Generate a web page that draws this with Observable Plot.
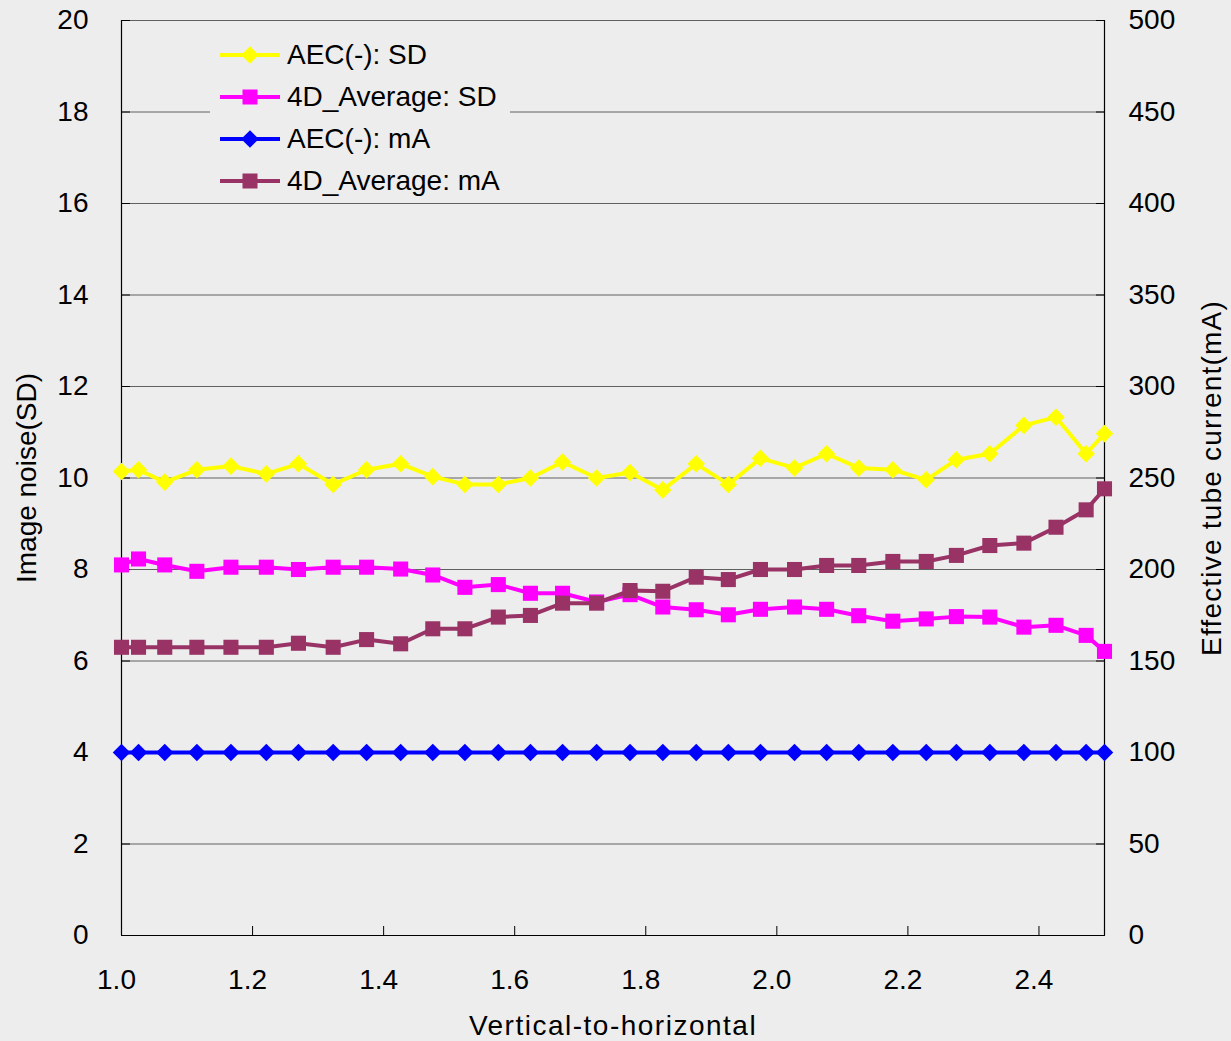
<!DOCTYPE html>
<html>
<head>
<meta charset="utf-8">
<script src="https://cdn.jsdelivr.net/npm/d3@7"></script>
<script src="https://cdn.jsdelivr.net/npm/@observablehq/plot@0.6"></script>
<style>
  body { margin: 0; background: #ededed; }
  #wrap { position: relative; width: 1231px; height: 1041px; font-family: "Liberation Sans", Arial, sans-serif; }
  #legend { position: absolute; left: 210px; top: 34px; width: 300px; height: 166px; background: #ededed; }
  .row { position: absolute; left: 0; height: 42px; display: flex; align-items: center; font-size: 28px; color: #000; white-space: nowrap; }
  .row svg { display: block; }
</style>
</head>
<body>
<div id="wrap"><div id="legend"></div></div>
<script>
// ---- data ----
const ratio = [1.0, 1.026, 1.066, 1.115, 1.167, 1.221, 1.270, 1.323, 1.374, 1.426, 1.475, 1.524, 1.575, 1.624, 1.673, 1.725,
               1.776, 1.826, 1.877, 1.926, 1.975, 2.027, 2.076, 2.125, 2.177, 2.228, 2.274, 2.325, 2.377, 2.426, 2.472, 2.5];
const aecSD = [10.14, 10.18, 9.91, 10.18, 10.26, 10.09, 10.31, 9.86, 10.18, 10.31, 10.03, 9.86, 9.86, 10.0, 10.35, 10.0,
               10.12, 9.74, 10.31, 9.86, 10.43, 10.22, 10.53, 10.22, 10.18, 9.96, 10.40, 10.53, 11.15, 11.33, 10.53, 10.97];
const avgSD = [8.10, 8.23, 8.10, 7.96, 8.05, 8.05, 8.00, 8.05, 8.05, 8.01, 7.88, 7.61, 7.67, 7.48, 7.48, 7.29,
               7.45, 7.18, 7.12, 7.01, 7.13, 7.18, 7.13, 6.99, 6.87, 6.92, 6.97, 6.96, 6.74, 6.78, 6.56, 6.21];
const aecMA = [100, 100, 100, 100, 100, 100, 100, 100, 100, 100, 100, 100, 100, 100, 100, 100,
               100, 100, 100, 100, 100, 100, 100, 100, 100, 100, 100, 100, 100, 100, 100, 100];
const avgMA = [157.5, 157.5, 157.5, 157.5, 157.5, 157.5, 159.7, 157.5, 161.7, 159.4, 167.6, 167.6, 174.0, 174.9, 181.6, 181.6,
               188.5, 188.1, 195.8, 194.5, 200.0, 200.0, 202.2, 202.2, 204.4, 204.4, 207.7, 213.1, 214.4, 223.1, 232.6, 244.1];

const seriesNames = ["AEC(-): SD", "4D_Average: SD", "AEC(-): mA", "4D_Average: mA"];
const seriesColors = ["#ffff00", "#ff00ff", "#0000ff", "#993366"];
const seriesSymbols = ["diamond", "square", "diamond", "square"];

const xDomain = [1.0, 2.5];
const leftDomain = [0, 20];
const rightDomain = [0, 500];
const xTicks = [1.0, 1.2, 1.4, 1.6, 1.8, 2.0, 2.2, 2.4];
const xTickLabels = ["1.0", "1.2", "1.4", "1.6", "1.8", "2.0", "2.2", "2.4"];
const leftTicks = [0, 2, 4, 6, 8, 10, 12, 14, 16, 18, 20];
const leftTickLabels = ["0", "2", "4", "6", "8", "10", "12", "14", "16", "18", "20"];
const rightTickLabels = ["0", "50", "100", "150", "200", "250", "300", "350", "400", "450", "500"];

const xTitle = "Vertical-to-horizontal";
const leftTitle = "Image noise(SD)";
const rightTitle = "Effective tube current(mA)";

// ---- build ----
const k = rightDomain[1] / leftDomain[1]; // secondary axis factor
const table = (ys, scale) => ratio.map((x, i) => ({x, y: ys[i] / scale}));
const series = [table(aecSD, 1), table(avgSD, 1), table(aecMA, k), table(avgMA, k)];

const xLab = new Map(xTicks.map((t, i) => [t, xTickLabels[i]]));
const lLab = new Map(leftTicks.map((t, i) => [t, leftTickLabels[i]]));
const rLab = new Map(leftTicks.map((t, i) => [t, rightTickLabels[i]]));

const FS = 28;
const symbolOpts = (sym) => sym === "diamond" ? {symbol: "square", r: 7, rotate: 45} : {symbol: "square", r: 8.5};

const marks = [
  Plot.ruleY(leftTicks.filter(d => d > 0), {stroke: "#606060", strokeWidth: 1}),
  Plot.ruleX(xDomain, {stroke: "#000", strokeWidth: 1.2}),
  Plot.ruleY([leftDomain[0]], {stroke: "#000", strokeWidth: 1.2}),
  // inward tick marks
  Plot.axisY({anchor: "left", ticks: leftTicks, tickSize: 9, dx: 9, tickFormat: () => "", label: null, stroke: "#000"}),
  Plot.axisY({anchor: "right", ticks: leftTicks, tickSize: 9, dx: -9, tickFormat: () => "", label: null, stroke: "#000"}),
  Plot.axisX({anchor: "bottom", ticks: xTicks, tickSize: 9, dy: -9, tickFormat: () => "", label: null, stroke: "#000"}),
  // tick labels
  Plot.axisY({anchor: "left", ticks: leftTicks, tickSize: 0, tickPadding: 33, tickFormat: d => lLab.get(d), label: null, fontSize: FS, fill: "#000"}),
  Plot.axisY({anchor: "right", ticks: leftTicks, tickSize: 0, tickPadding: 24, tickFormat: d => rLab.get(d), label: null, fontSize: FS, fill: "#000"}),
  Plot.axisX({anchor: "bottom", ticks: xTicks, tickSize: 0, tickPadding: 34, dx: -5, tickFormat: d => xLab.get(d), label: null, fontSize: FS, fill: "#000"}),
  // titles
  Plot.text([xTitle], {frameAnchor: "bottom", dy: 91, text: d => d, fontSize: FS, fill: "#000", textAnchor: "middle", lineAnchor: "middle"}),
  Plot.text([leftTitle], {frameAnchor: "left", dx: -94, rotate: -90, text: d => d, fontSize: FS, fill: "#000", textAnchor: "middle", lineAnchor: "middle"}),
  Plot.text([rightTitle], {frameAnchor: "right", dx: 108, rotate: -90, text: d => d, fontSize: FS, fill: "#000", textAnchor: "middle", lineAnchor: "middle"})
];

series.forEach((data, i) => {
  marks.push(Plot.line(data, {x: "x", y: "y", stroke: seriesColors[i], strokeWidth: 4}));
  marks.push(Plot.dot(data, {x: "x", y: "y", fill: seriesColors[i], stroke: "none", ...symbolOpts(seriesSymbols[i])}));
});

const chart = Plot.plot({
  width: 1231,
  height: 1041,
  marginLeft: 121,
  marginRight: 127,
  marginTop: 20,
  marginBottom: 106,
  x: {domain: xDomain},
  y: {domain: leftDomain},
  style: {background: "transparent", fontFamily: "'Liberation Sans', Arial, sans-serif", fontSize: FS + "px", color: "#000", overflow: "visible"},
  marks
});
const wrap = document.getElementById("wrap");
wrap.insertBefore(chart, wrap.firstChild);

// slightly wider title spacing, as in the original
d3.select(chart).selectAll("text").each(function () {
  const t = this.textContent;
  if (t === xTitle) this.style.letterSpacing = "1.5px";
  if (t === rightTitle) this.style.letterSpacing = "1.2px";
});

// ---- legend ----
const legend = document.getElementById("legend");
const rowTops = [0, 42, 84, 126];
seriesNames.forEach((name, i) => {
  const row = document.createElement("div");
  row.className = "row";
  row.style.top = rowTops[i] + "px";
  const ns = "http://www.w3.org/2000/svg";
  const s = document.createElementNS(ns, "svg");
  s.setAttribute("width", 77); s.setAttribute("height", 42);
  const ln = document.createElementNS(ns, "line");
  ln.setAttribute("x1", 10); ln.setAttribute("x2", 70); ln.setAttribute("y1", 21); ln.setAttribute("y2", 21);
  ln.setAttribute("stroke", seriesColors[i]); ln.setAttribute("stroke-width", 4);
  s.appendChild(ln);
  const m = document.createElementNS(ns, "rect");
  const side = seriesSymbols[i] === "diamond" ? 12.5 : 15;
  m.setAttribute("x", 40 - side / 2); m.setAttribute("y", 21 - side / 2);
  m.setAttribute("width", side); m.setAttribute("height", side);
  m.setAttribute("fill", seriesColors[i]);
  if (seriesSymbols[i] === "diamond") m.setAttribute("transform", "rotate(45 40 21)");
  s.appendChild(m);
  row.appendChild(s);
  const t = document.createElement("span");
  t.textContent = name;
  row.appendChild(t);
  legend.appendChild(row);
});
</script>
</body>
</html>
